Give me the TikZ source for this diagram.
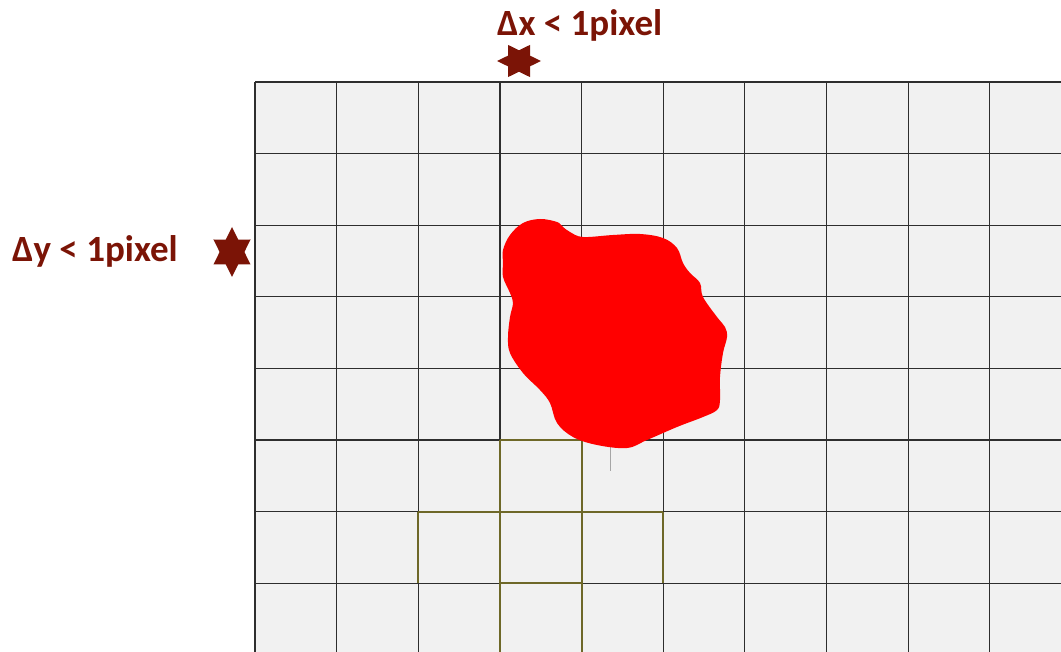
\documentclass[tikz,border=0pt]{standalone}
\usepackage{fontspec}
\setmainfont{Carlito}
\usepackage{xcolor}
\usepackage{tikz}
\usetikzlibrary{positioning, calc}
\definecolor{PX_RED}{HTML}{7B1406}
\definecolor{PX_BG}{HTML}{F1F1F1}
\definecolor{PX_LINE}{HTML}{2E2E2E}
\definecolor{PX_YEL}{HTML}{6E6828}
\definecolor{PX_BLOB}{HTML}{FF0000}
\tikzset{
  gridline/.style={draw=PX_LINE, line width=1.1pt},
  yelline/.style={draw=PX_YEL, line width=1.1pt},
  lbl/.style={font=\bfseries\fontsize{37}{37}\selectfont, text=PX_RED, inner sep=0pt},
  hexstar/.style={fill=PX_RED, draw=none},
}

\begin{document}
\begin{tikzpicture}[x=1pt, y=-1pt]
  \useasboundingbox (0,0) rectangle (1061,652);

  % pixel grid
  \fill[PX_BG] (255,82) rectangle (1061,652);
  \foreach \i in {0,...,9}
    \draw[gridline] ({255+\i*81.65},82) -- ({255+\i*81.65},652);
  \foreach \j in {0,...,7}
    \draw[gridline] (255,{82+\j*71.6}) -- (1061,{82+\j*71.6});

  % highlighted cells
  \draw[yelline] (500,440) -- (582,440);
  \draw[yelline] (500,440) -- (500,652);
  \draw[yelline] (582,440) -- (582,652);
  \draw[yelline] (418,512) -- (663,512);
  \draw[yelline] (418,512) -- (418,583);
  \draw[yelline] (663,512) -- (663,583);
  \draw[yelline] (500,583) -- (582,583);
  \draw[gray!70, line width=0.8pt] (610,440) -- (610,471);

  % blob
  \fill[PX_BLOB] plot[smooth cycle, tension=0.6] coordinates {
    (503,250) (510,235) (523,223) (540,219) (557,222) (563,227)
    (570,232) (583,237) (613,235) (640,234) (663,238) (677,248)
    (683,263) (690,273) (700,283) (703,297) (717,317) (725,327)
    (727,337) (723,353) (720,377) (720,400) (717,410) (703,417)
    (677,427) (647,440) (627,448) (597,445) (573,437) (557,423)
    (550,403) (540,390) (523,373) (510,353) (508,337) (510,317)
    (513,303) (510,293) (503,277) (503,263)};

  % stars
  \coordinate (sx) at (519,61);
  \coordinate (sy) at (232,252);
  \fill[hexstar] ($(sx)+(22,0)$)
    \foreach \a in {30,60,...,330} {
      -- ($(sx)+({cos(\a)*(mod(\a,60)==0 ? 22 : 12.7)},{sin(\a)*(mod(\a,60)==0 ? 18.6 : 10.7)})$)
    } -- cycle;
  \fill[hexstar] ($(sy)+(0,25)$)
    \foreach \a in {30,60,...,330} {
      -- ($(sy)+({sin(\a)*(mod(\a,60)==0 ? 21.4 : 12.4)},{cos(\a)*(mod(\a,60)==0 ? 25 : 14.4)})$)
    } -- cycle;

  \node[lbl, anchor=base west] (dx) at (497,36) {Δx < 1pixel};
  \node[lbl, anchor=base west] (dy) at (12,262) {Δy < 1pixel};
\end{tikzpicture}
\end{document}
